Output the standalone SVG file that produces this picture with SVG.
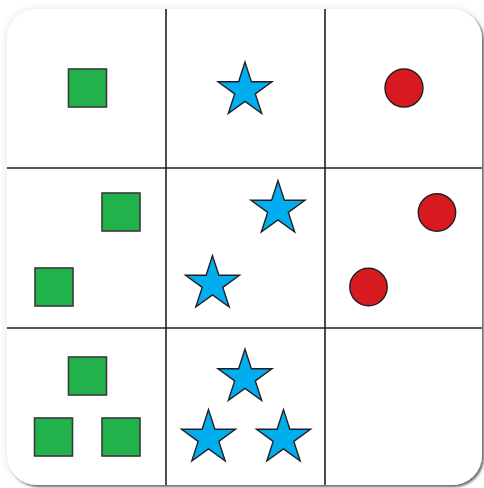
<svg xmlns="http://www.w3.org/2000/svg" xmlns:xlink="http://www.w3.org/1999/xlink" width="484" height="488" viewBox="0 0 484 488">
<style>
.grid{stroke:#231f20;stroke-width:1.6;fill:none}
.sq{fill:#22b24c;stroke:#3a3a3a;stroke-width:1.6}
.st{fill:#00aeef;stroke:#231f20;stroke-width:1.4;stroke-linejoin:miter}
.ci{fill:#d71920;stroke:#231f20;stroke-width:1.4}
</style>
<defs>
<filter id="sh" x="-5%" y="-5%" width="110%" height="110%">
<feGaussianBlur in="SourceAlpha" stdDeviation="4" result="b1"/>
<feComponentTransfer in="b1" result="halo"><feFuncA type="linear" slope="0.12"/></feComponentTransfer>
<feOffset in="SourceAlpha" dx="2" dy="2" result="o"/>
<feGaussianBlur in="o" stdDeviation="1.2" result="b2"/>
<feComponentTransfer in="b2" result="drop"><feFuncA type="linear" slope="0.55"/></feComponentTransfer>
<feMerge><feMergeNode in="halo"/><feMergeNode in="drop"/><feMergeNode in="SourceGraphic"/></feMerge>
</filter>
<path id="star" d="M0,-28.4 L6.38,-8.78 L27.01,-8.78 L10.32,3.35 L16.69,22.98 L0,10.85 L-16.69,22.98 L-10.32,3.35 L-27.01,-8.78 L-6.38,-8.78 Z"/>
</defs>
<rect width="484" height="488" fill="#ffffff"/>
<rect id="card" x="7" y="9" width="475" height="476" rx="30" ry="30" fill="#ffffff" filter="url(#sh)"/>
<g id="connectors">
<line class="grid" x1="166" y1="9" x2="166" y2="485"/>
<line class="grid" x1="325" y1="9" x2="325" y2="485"/>
<line class="grid" x1="7" y1="168" x2="482" y2="168"/>
<line class="grid" x1="7" y1="328" x2="482" y2="328"/>
</g>
<g id="cell-1-1"><rect class="sq" x="68.5" y="69" width="38" height="38"/></g>
<g id="cell-1-2"><use href="#star" class="st" x="245" y="90.5"/></g>
<g id="cell-1-3"><circle class="ci" cx="404" cy="88" r="19"/></g>
<g id="cell-2-1"><rect class="sq" x="102" y="193" width="38" height="38"/><rect class="sq" x="35" y="268" width="38" height="38"/></g>
<g id="cell-2-2"><use href="#star" class="st" x="278" y="209"/><use href="#star" class="st" x="212.5" y="284"/></g>
<g id="cell-2-3"><circle class="ci" cx="437" cy="212.5" r="18.7"/><circle class="ci" cx="368.5" cy="287" r="18.7"/></g>
<g id="cell-3-1"><rect class="sq" x="68.5" y="357" width="38" height="38"/><rect class="sq" x="34.5" y="418" width="38" height="38"/><rect class="sq" x="102" y="418" width="38" height="38"/></g>
<g id="cell-3-2"><use href="#star" class="st" x="245" y="377.5"/><use href="#star" class="st" x="208.5" y="438"/><use href="#star" class="st" x="283.5" y="438"/></g>
<g id="cell-3-3"></g>
</svg>
